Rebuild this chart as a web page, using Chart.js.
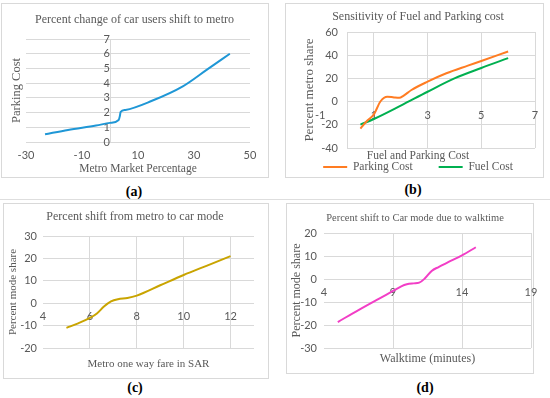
<!DOCTYPE html>
<html>
<head>
<meta charset="utf-8">
<script src="https://cdn.jsdelivr.net/npm/chart.js@4.4.0/dist/chart.umd.min.js"></script>
<style>
  body { margin: 0; background: #fff; }
  #page { position: relative; width: 550px; height: 398px; overflow: hidden; }
  .frame { position: absolute; border: 1px solid #d9d9d9; box-sizing: border-box; }
  canvas { position: absolute; }
  .cap { position: absolute; font: bold 14px "Liberation Serif", serif; color: #000; transform: translate(-50%, -50%); }
  .rule { position: absolute; left: 0; top: 199px; width: 550px; height: 1px; background: #dedede; }
</style>
</head>
<body>
<div id="page">
  <div class="frame" style="left:1px;top:3px;width:268px;height:175px"></div>
  <div class="frame" style="left:285px;top:3px;width:259px;height:175px"></div>
  <div class="frame" style="left:3px;top:203px;width:266px;height:176px"></div>
  <div class="frame" style="left:286px;top:203px;width:248px;height:171px"></div>
  <div class="rule"></div>
  <div class="cap" style="left:134px;top:192px">(a)</div>
  <div class="cap" style="left:413px;top:190px">(b)</div>
  <div class="cap" style="left:135px;top:388px">(c)</div>
  <div class="cap" style="left:425px;top:388px">(d)</div>
  <canvas id="chartA" width="267" height="175" style="left:1px;top:3px"></canvas>
  <canvas id="chartB" width="266" height="180" style="left:285px;top:3px"></canvas>
  <canvas id="chartC" width="264" height="175" style="left:3px;top:203px"></canvas>
  <canvas id="chartD" width="258" height="170" style="left:286px;top:203px"></canvas>
</div>
<script>
// (a) Percent change of car users shift to metro
const metroMarketA = [-23.2, -15, -5, 0, 3.1, 3.5, 3.8, 5.5, 15, 26, 34.5, 42.8];
const parkingCostA = [0.52, 0.82, 1.12, 1.3, 1.5, 1.75, 2.05, 2.18, 2.8, 3.78, 4.9, 6.0];

// (b) Sensitivity of Fuel and Parking cost
const parkingCostB = [0.5, 0.75, 1, 1.25, 1.5, 1.75, 1.95, 2.1, 2.4, 3, 3.7, 4.5, 5, 6];
const parkingShareB = [-23.3, -16.5, -11, 0.3, 4.2, 3.6, 3.3, 5, 10, 17.2, 24.4, 31, 35, 43.2];
const fuelCostB = [0.5, 1, 2, 3, 4, 5, 6];
const fuelShareB = [-19.8, -15, -3.5, 8.5, 20, 29, 37.5];
const costTicksB = [-1, 1, 3, 5, 7];

// (c) Percent shift from metro to car mode
const fareC = [5, 5.5, 6, 6.3, 6.6, 6.9, 7.2, 7.6, 8, 9, 10, 11, 12];
const modeShareC = [-11, -9, -6.6, -4.6, -1.5, 0.8, 1.8, 2.3, 3.4, 8, 12.6, 16.8, 21];

// (d) Percent shift to Car mode due to walktime
const walkTimeD = [5, 6.5, 8, 9, 9.6, 10, 10.5, 10.9, 11.3, 11.8, 12.3, 13, 14, 15];
const modeShareD = [-18.7, -13.5, -8.5, -5.2, -3.2, -2.3, -1.9, -1.6, 0.2, 3.5, 5.2, 7.3, 10.3, 13.8];

const gridColor = '#d9d9d9';
const textColor = '#595959';
const serif = '"Liberation Serif", serif';
const sans = 'Lato, sans-serif';

function toPoints(xs, ys) {
    return xs.map((x, i) => ({ x: x, y: ys[i] }));
}

// keep the edge labels from pushing the plot area around
function edgePadding(scale, left, right) {
    scale.paddingLeft = left;
    scale.paddingRight = right;
    scale.paddingTop = 0;
    scale.paddingBottom = 0;
}

function lineSet(label, points, color) {
    return {
        label: label,
        data: points,
        showLine: true,
        borderColor: color,
        backgroundColor: color,
        borderWidth: 2,
        pointRadius: 0,
        cubicInterpolationMode: 'monotone'
    };
}

function chartTitle(text, size, top, bottom) {
    return {
        display: true,
        text: text,
        color: textColor,
        font: { family: serif, size: size, weight: 'normal' },
        padding: { top: top, bottom: bottom }
    };
}

function axisTitle(text, size, top, bottom) {
    return {
        display: true,
        text: text,
        color: textColor,
        font: { family: serif, size: size },
        padding: { top: top, bottom: bottom }
    };
}

function hideGridAt(value) {
    return c => (c.tick && c.tick.value === value) ? 'rgba(0,0,0,0)' : gridColor;
}

Chart.defaults.animation = false;
Chart.defaults.events = [];
Chart.defaults.responsive = false;

/* (a) the value labels sit on the line x = 0, the plot itself has a plain left axis for grid + title */
new Chart(document.getElementById('chartA'), {
    type: 'scatter',
    data: { datasets: [lineSet('Parking Cost', toPoints(metroMarketA, parkingCostA), '#1f97d6')] },
    options: {
        layout: { padding: { left: 0, right: 0, top: 0, bottom: 36 } },
        plugins: {
            legend: { display: false },
            title: chartTitle('Percent change of car users shift to metro', 12, 9.8, 11.8)
        },
        scales: {
            x: {
                type: 'linear', position: { y: 0 }, min: -30, max: 50,
                ticks: { stepSize: 20, padding: 7.2, color: textColor, font: { family: sans, size: 11 } },
                grid: { display: false, drawTicks: false },
                border: { display: false },
                title: axisTitle('Metro Market Percentage', 11.5, 0, 0),
                afterFit: s => { edgePadding(s, 0, 18); s.height = 33.9; }
            },
            y: {
                type: 'linear', position: 'left', min: 0, max: 7,
                ticks: { display: false, stepSize: 1 },
                grid: { color: gridColor, drawTicks: false },
                border: { display: false },
                title: axisTitle('Parking Cost', 12.5, 8.5, 0),
                afterFit: s => { edgePadding(s, 0, 0); s.width = 25; }
            },
            yZero: {
                type: 'linear', axis: 'y', position: { x: 0 }, min: 0, max: 7,
                ticks: { stepSize: 1, autoSkip: false, padding: 4, color: textColor, font: { family: sans, size: 11 } },
                grid: { display: false, drawTicks: false },
                border: { color: gridColor },
                afterFit: s => edgePadding(s, 0, 0)
            }
        }
    }
});

/* (b) two series, labels of x along the zero line */
new Chart(document.getElementById('chartB'), {
    type: 'scatter',
    data: {
        datasets: [
            lineSet('Parking Cost', toPoints(parkingCostB, parkingShareB), '#ff7c22'),
            lineSet('Fuel Cost', toPoints(fuelCostB, fuelShareB), '#00b050')
        ]
    },
    options: {
        layout: { padding: { left: 0, right: 0, top: 0, bottom: 0.25 } },
        plugins: {
            title: chartTitle('Sensitivity of Fuel and Parking cost', 12, 6.8, 7.8),
            legend: {
                position: 'bottom',
                weight: 3000,
                labels: {
                    usePointStyle: true, pointStyle: 'line', pointStyleWidth: 24, padding: 26,
                    color: textColor, font: { family: serif, size: 11.5 }
                },
                title: {
                    display: true, text: 'Fuel and Parking Cost', color: textColor,
                    font: { family: serif, size: 11.5 }, padding: { top: 2.25, bottom: -28.8 }
                }
            }
        },
        scales: {
            x: {
                type: 'linear', position: { y: 0 }, min: 0, max: 7,
                afterBuildTicks: s => { s.ticks = costTicksB.map(v => ({ value: v })); },
                ticks: { autoSkip: false, padding: 6.9, color: textColor, font: { family: sans, size: 11 } },
                grid: { color: hideGridAt(-1), drawTicks: false },
                border: { display: false },
                afterFit: s => edgePadding(s, 0, 16)
            },
            y: {
                type: 'linear', position: 'left', min: -40, max: 60,
                ticks: { stepSize: 20, padding: 9, color: textColor, font: { family: sans, size: 11 } },
                grid: { color: gridColor, drawTicks: false },
                border: { color: gridColor },
                title: axisTitle('Percent metro share', 13, 17.2, 0),
                afterFit: s => { edgePadding(s, 0, 0); s.width = 62; }
            }
        }
    }
});

/* (c) */
new Chart(document.getElementById('chartC'), {
    type: 'scatter',
    data: { datasets: [lineSet('Percent mode share', toPoints(fareC, modeShareC), '#c9a400')] },
    options: {
        layout: { padding: { left: 0, right: 0, top: 0, bottom: 30 } },
        plugins: {
            legend: { display: false },
            title: chartTitle('Percent shift from metro to car mode', 12, 6.8, 11.8)
        },
        scales: {
            x: {
                type: 'linear', position: { y: 0 }, min: 4, max: 13,
                ticks: { stepSize: 2, includeBounds: false, padding: 6.8, color: textColor, font: { family: sans, size: 11 } },
                grid: { color: hideGridAt(4), drawTicks: false },
                border: { display: false },
                title: axisTitle('Metro one way fare in SAR', 11, 0, 0),
                afterFit: s => { edgePadding(s, 0, 13); s.height = 67.3; }
            },
            y: {
                type: 'linear', position: 'left', min: -20, max: 30,
                ticks: { stepSize: 10, padding: 6, color: textColor, font: { family: sans, size: 11 } },
                grid: { color: gridColor, drawTicks: false },
                border: { display: false },
                title: axisTitle('Percent mode share', 11, 3.4, 0),
                afterFit: s => { edgePadding(s, 0, 0); s.width = 40; }
            }
        }
    }
});

/* (d) */
new Chart(document.getElementById('chartD'), {
    type: 'scatter',
    data: { datasets: [lineSet('Percent mode share', toPoints(walkTimeD, modeShareD), '#f23ec6')] },
    options: {
        layout: { padding: { left: 0, right: 0, top: 0, bottom: 25 } },
        plugins: {
            legend: { display: false },
            title: chartTitle('Percent shift to Car mode due to walktime', 10.5, 8.7, 8.7)
        },
        scales: {
            x: {
                type: 'linear', position: { y: 0 }, min: 4, max: 19,
                ticks: { stepSize: 5, padding: 7.3, color: textColor, font: { family: sans, size: 11 } },
                grid: { color: hideGridAt(4), drawTicks: false },
                border: { display: false },
                title: axisTitle('Walktime (minutes)', 12, 0, 0),
                afterFit: s => { edgePadding(s, 0, 13); s.height = 87.1; }
            },
            y: {
                type: 'linear', position: 'left', min: -30, max: 20,
                ticks: { stepSize: 10, padding: 7, color: textColor, font: { family: sans, size: 11 } },
                grid: { color: gridColor, drawTicks: false },
                border: { display: false },
                title: axisTitle('Percent mode share', 12, 3.8, 0),
                afterFit: s => { edgePadding(s, 0, 0); s.width = 38; }
            }
        }
    }
});
</script>
</body>
</html>
